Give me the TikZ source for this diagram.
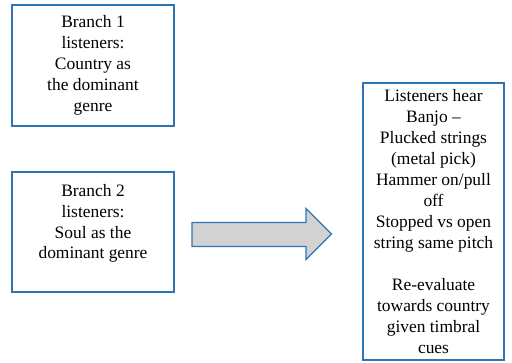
\documentclass[tikz,border=0pt]{standalone}
\usepackage{fontspec}
\setmainfont{Liberation Serif}
\definecolor{boxblue}{RGB}{46,117,182}
\definecolor{arrowgray}{RGB}{210,210,210}
\begin{document}
\begin{tikzpicture}[x=1bp,y=-1bp,
  txtbox/.style={draw=boxblue, line width=1.2bp, align=center, inner sep=0pt,
    font=\fontsize{17.5}{21}\selectfont},
  bigarrow/.style={draw=boxblue, line width=1.2bp, fill=arrowgray}]
\useasboundingbox (0,0) rectangle (512,362);
\node[txtbox, minimum width=162bp, minimum height=121bp] (b1) at (93,65.5) {Branch 1\\listeners:\\Country as\\the dominant\\genre};
\node[txtbox, minimum width=162bp, minimum height=120bp] (b2) at (93,232) {Branch 2\\listeners:\\Soul as the\\dominant genre\\\mbox{}};
\node[txtbox, minimum width=141bp, minimum height=277bp] (b3) at (433.5,221.5) {Listeners hear\\Banjo --\\Plucked strings\\(metal pick)\\Hammer on/pull\\off\\Stopped vs open\\string same pitch\\[21bp]Re-evaluate\\towards country\\given timbral\\cues};
\draw[bigarrow] (192,222.5) -- (306,222.5) -- (306,208.5) -- (331.5,234) -- (306,259.5) -- (306,246.5) -- (192,246.5) -- cycle;
\end{tikzpicture}
\end{document}
